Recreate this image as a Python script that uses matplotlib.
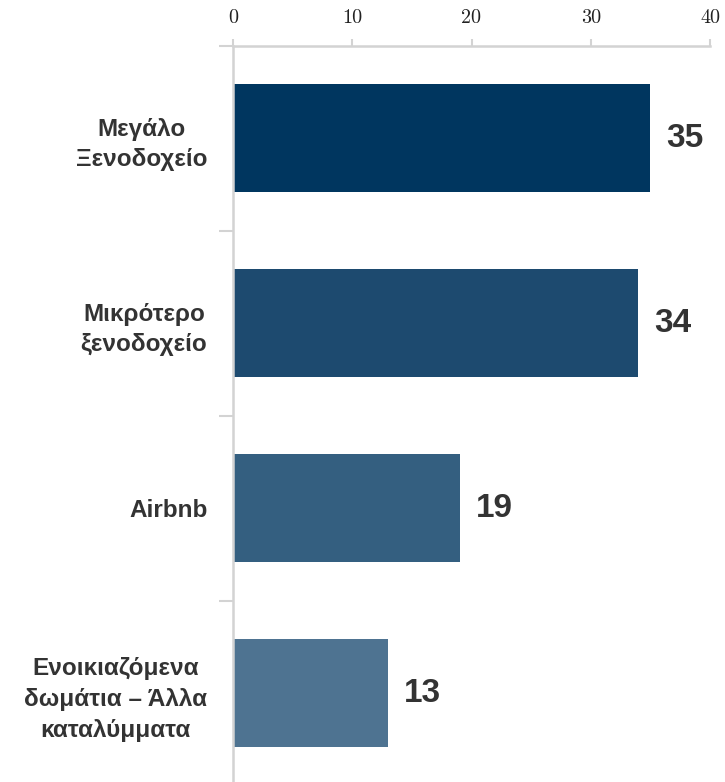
import matplotlib.pyplot as plt
import matplotlib.transforms as mtransforms

categories = ['Μεγάλο\nΞενοδοχείο', 'Μικρότερο\nξενοδοχείο', 'Airbnb',
              'Ενοικιαζόμενα\nδωμάτια – Άλλα\nκαταλύμματα']
values = [35, 34, 19, 13]
colors = ['#00365f', '#1d4a6f', '#345f80', '#4e7391']
x_ticks = [0, 10, 20, 30, 40]

GRID = '#d3d3d3'
TEXT = '#333333'

fig = plt.figure(figsize=(7.25, 7.82), dpi=100)
ax = fig.add_axes([233 / 725, 0.0, 477 / 725, 1 - 45.5 / 782])

pos = list(range(len(categories)))
ax.barh(pos, values, height=0.585, color=colors, zorder=2)

ax.set_xlim(0, 40)
ax.set_ylim(3.48, -0.5)

# value labels
for p, v in zip(pos, values):
    off = mtransforms.offset_copy(ax.transData, fig=fig, x=16, y=0, units='dots')
    ax.text(v, p, str(v), transform=off, ha='left', va='center',
            fontsize=24, fontweight='bold', color=TEXT,
            family=['Liberation Sans Narrow', 'Liberation Sans'])

# x axis on top
ax.xaxis.set_ticks_position('top')
ax.xaxis.set_label_position('top')
ax.set_xticks(x_ticks)
ax.set_xticklabels([str(t) for t in x_ticks], fontsize=14.5,
                   family=['cmr10', 'DejaVu Serif'], color='#222222')
ax.tick_params(axis='x', length=5, width=1.5, color=GRID, pad=8)

# category labels + boundary ticks
ax.set_yticks(pos)
ax.set_yticklabels(categories, fontsize=17.5, fontweight='bold', color=TEXT,
                   family=['Liberation Sans', 'DejaVu Sans'], linespacing=1.42)
for lbl in ax.get_yticklabels():
    lbl.set_multialignment('center')
ax.tick_params(axis='y', which='major', length=0, pad=18.5)
ax.set_yticks([-0.5, 0.5, 1.5, 2.5], minor=True)
ax.tick_params(axis='y', which='minor', length=10, width=1.5, color=GRID)

for side in ['right', 'bottom']:
    ax.spines[side].set_visible(False)
for side in ['top', 'left']:
    ax.spines[side].set_color(GRID)
    ax.spines[side].set_linewidth(1.8)

fig.savefig('out.png', dpi=100)
